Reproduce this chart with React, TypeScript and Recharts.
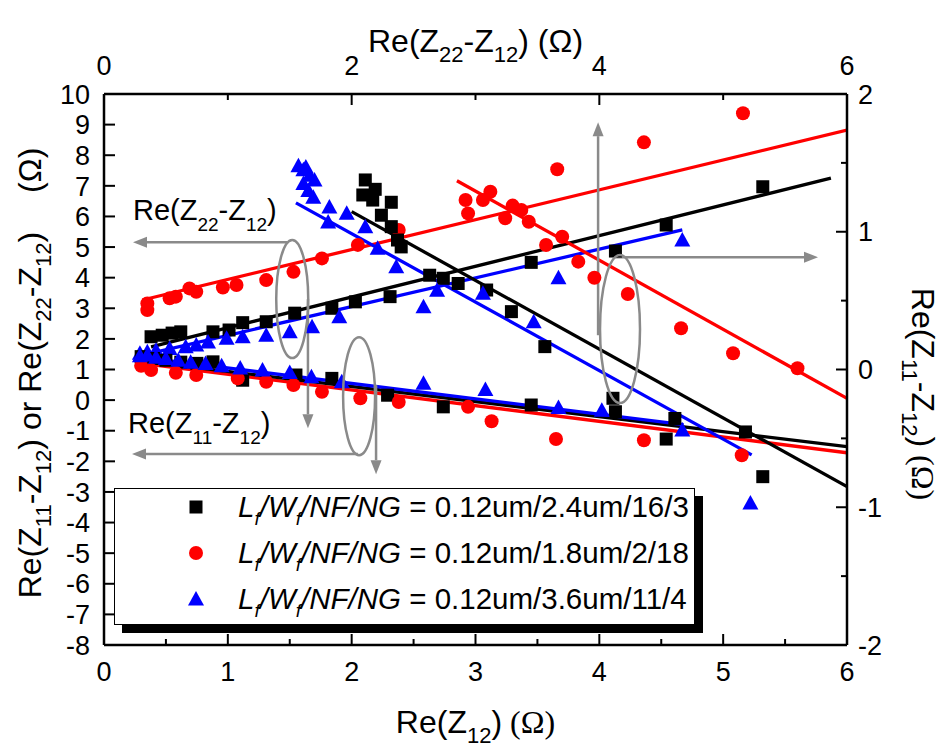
import React from "react";
import {
  ComposedChart,
  XAxis,
  YAxis,
  Scatter,
  Line,
  ReferenceLine,
  ReferenceDot,
  Legend,
} from "recharts";

const SANS = "'Liberation Sans', Arial, sans-serif";
const SERIF = "'Liberation Serif', 'Times New Roman', serif";
const GRAY = "#8a8a8a";

const W = 943;
const H = 752;
const PLOT_L = 104;
const PLOT_R = 847;
const PLOT_T = 94;
const PLOT_B = 645;

// axis ticks
const bottomTicks = [0, 0.5, 1, 1.5, 2, 2.5, 3, 3.5, 4, 4.5, 5, 5.5, 6];
const topTicks = [0, 1, 2, 3, 4, 5, 6];
const leftTicks = [-8, -7, -6, -5, -4, -3, -2, -1, 0, 1, 2, 3, 4, 5, 6, 7, 8, 9, 10];
const rightTicks = [-2, -1.5, -1, -0.5, 0, 0.5, 1, 1.5, 2];

const deviceLabels = ["0.12um/2.4um/16/3", "0.12um/1.8um/2/18", "0.12um/3.6um/11/4"];
const deviceColors = ["#000000", "#ff0000", "#0000ff"];
const deviceMarkers = ["square", "circle", "triangle"];

// [Re(Z12), Re(Z22-Z12)]  -> bottom / left
const blackZ22 = [
  [0.38, 2.07], [0.47, 2.12], [0.55, 2.19], [0.62, 2.23], [0.88, 2.23], [1.01, 2.29],
  [1.12, 2.53], [1.31, 2.56], [1.54, 2.84], [1.84, 3.0], [2.03, 3.21], [2.31, 3.38],
  [2.63, 4.08], [2.74, 3.98], [2.86, 3.81], [3.45, 4.5], [4.13, 4.87], [4.54, 5.72], [5.32, 6.97],
];
const redZ22 = [
  [0.35, 3.16], [0.35, 2.94], [0.53, 3.33], [0.58, 3.38], [0.69, 3.65], [0.745, 3.54],
  [0.96, 3.68], [1.07, 3.76], [1.31, 3.92], [1.53, 4.19], [1.76, 4.63], [2.05, 5.07],
  [2.38, 5.56], [2.94, 6.1], [3.66, 7.54], [4.36, 8.42], [5.16, 9.37],
];
const blueZ22 = [
  [0.29, 1.53], [0.35, 1.58], [0.42, 1.63], [0.53, 1.69], [0.66, 1.74], [0.745, 1.8],
  [0.84, 1.9], [0.99, 2.02], [1.12, 2.07], [1.31, 2.12], [1.5, 2.23], [1.68, 2.4],
  [1.9, 2.72], [2.58, 3.05], [2.69, 3.59], [3.67, 4.0], [4.67, 5.23],
];

// [Re(Z12), Re(Z11-Z12)]  -> bottom / left
const blackZ11 = [
  [0.3, 1.42], [0.4, 1.36], [0.5, 1.3], [0.62, 1.24], [0.75, 1.2], [0.88, 1.25],
  [1.12, 0.65], [1.55, 0.82], [1.84, 0.71], [2.29, 0.16], [2.74, -0.22], [3.45, -0.16],
  [4.13, -0.38], [4.61, -0.6], [5.18, -1.04],
];
const redZ11 = [
  [0.3, 1.12], [0.38, 0.98], [0.58, 0.89], [0.745, 0.82], [1.08, 0.71], [1.31, 0.6],
  [1.53, 0.49], [1.76, 0.27], [2.07, 0.06], [2.38, -0.06], [2.94, -0.22], [3.13, -0.69],
  [3.65, -1.27], [4.36, -1.31], [5.15, -1.8],
];
const blueZ11 = [
  [0.29, 1.45], [0.35, 1.47], [0.42, 1.4], [0.5, 1.36], [0.6, 1.3], [0.7, 1.24],
  [0.82, 1.2], [0.95, 1.12], [1.1, 1.05], [1.28, 0.98], [1.5, 0.9], [1.675, 0.76],
  [1.92, 0.6], [2.58, 0.55], [3.08, 0.35], [3.67, -0.24], [4.02, -0.33], [4.67, -0.98],
];

// [Re(Z22-Z12), Re(Z11-Z12)]  -> top / right
const blackZ11vs22 = [
  [2.11, 1.376], [2.09, 1.267], [2.19, 1.308], [2.17, 1.23], [2.32, 1.214], [2.24, 1.12],
  [2.32, 1.037], [2.37, 0.94], [2.4, 0.89], [3.09, 0.577], [3.29, 0.42], [3.56, 0.166],
  [4.11, -0.209], [4.54, -0.505], [5.32, -0.778],
];
const redZ11vs22 = [
  [2.92, 1.23], [3.06, 1.23], [3.12, 1.29], [3.24, 1.098], [3.3, 1.19], [3.37, 1.158],
  [3.43, 1.073], [3.57, 0.904], [3.7, 0.964], [3.83, 0.783], [3.96, 0.666], [4.23, 0.548],
  [4.66, 0.299], [5.08, 0.118], [5.6, 0.009],
];
const blueZ11vs22 = [
  [1.57, 1.48], [1.61, 1.45], [1.63, 1.47], [1.66, 1.41], [1.61, 1.35], [1.65, 1.3],
  [1.69, 1.25], [1.7, 1.376], [1.82, 1.18], [1.81, 1.07], [1.96, 1.134], [2.11, 1.037],
  [2.21, 0.88], [2.36, 0.746], [3.06, 0.553], [3.47, 0.347], [5.22, -0.97],
];

// linear fits (end points)
const blackZ22Fit = [[0.38, 1.74], [5.87, 7.25]];
const redZ22Fit = [[0.31, 3.27], [6.0, 8.82]];
const blueZ22Fit = [[0.26, 1.42], [4.67, 5.56]];
const blackZ11Fit = [[0.26, 1.3], [6.0, -1.52]];
const redZ11Fit = [[0.27, 1.22], [6.0, -1.72]];
const blueZ11Fit = [[0.26, 1.42], [4.68, -0.8]];
const blackZ11vs22Fit = [[2.0, 1.146], [6.0, -0.85]];
const redZ11vs22Fit = [[2.85, 1.37], [6.0, -0.21]];
const blueZ11vs22Fit = [[1.55, 1.21], [5.23, -0.62]];

// annotations, in Re(Z12) / left-axis units
const ellipses = [
  { x: 1.52, y: 3.3, rx: 16, ry: 59 },
  { x: 2.06, y: 0.13, rx: 16, ry: 59 },
  { x: 4.167, y: 2.32, rx: 20, ry: 74 },
];
const arrows = [
  [[1.48, 5.16], [0.234, 5.16]],
  [[1.647, 3.3], [1.647, -0.92]],
  [[2.05, -1.76], [0.226, -1.76]],
  [[2.197, 0.49], [2.197, -2.42]],
  [[3.99, 2.12], [3.99, 9.08]],
  [[4.127, 4.67], [5.766, 4.67]],
];
const notes = [
  { x: 0.234, y: 5.88, parts: ["Re(Z", "22", "-Z", "12", ")"] },
  { x: 0.194, y: -1.08, parts: ["Re(Z", "11", "-Z", "12", ")"] },
];

const pts = (a: number[][]) => a.map(([x, y]) => ({ x, y }));

const pointSeries = [
  { key: "bz22", data: blackZ22, dev: 0, sec: false },
  { key: "rz22", data: redZ22, dev: 1, sec: false },
  { key: "uz22", data: blueZ22, dev: 2, sec: false },
  { key: "bz11", data: blackZ11, dev: 0, sec: false },
  { key: "rz11", data: redZ11, dev: 1, sec: false },
  { key: "uz11", data: blueZ11, dev: 2, sec: false },
  { key: "bzx", data: blackZ11vs22, dev: 0, sec: true },
  { key: "rzx", data: redZ11vs22, dev: 1, sec: true },
  { key: "uzx", data: blueZ11vs22, dev: 2, sec: true },
];
const fitSeries = [
  { key: "rz22f", data: redZ22Fit, dev: 1, sec: false },
  { key: "bz22f", data: blackZ22Fit, dev: 0, sec: false },
  { key: "uz22f", data: blueZ22Fit, dev: 2, sec: false },
  { key: "rz11f", data: redZ11Fit, dev: 1, sec: false },
  { key: "bz11f", data: blackZ11Fit, dev: 0, sec: false },
  { key: "uz11f", data: blueZ11Fit, dev: 2, sec: false },
  { key: "rzxf", data: redZ11vs22Fit, dev: 1, sec: true },
  { key: "bzxf", data: blackZ11vs22Fit, dev: 0, sec: true },
  { key: "uzxf", data: blueZ11vs22Fit, dev: 2, sec: true },
];

function Marker({ kind, cx, cy, color }: { kind: string; cx: number; cy: number; color: string }) {
  if (kind === "square") return <rect x={cx - 6.5} y={cy - 6.5} width={13} height={13} fill={color} />;
  if (kind === "circle") return <circle cx={cx} cy={cy} r={7} fill={color} />;
  return <polygon points={`${cx},${cy - 8} ${cx - 8},${cy + 6.5} ${cx + 8},${cy + 6.5}`} fill={color} />;
}

function richSpans(parts: string[], subSize: number, shift: number) {
  return parts.map((t, i) => {
    const isSub = i % 2 === 1;
    const dy = i === 0 ? 0 : isSub ? shift : -shift;
    return (
      <tspan key={i} dy={dy} fontSize={isSub ? subSize : undefined}>
        {t}
      </tspan>
    );
  });
}

function makeTick(side: string, isMajor: (v: number) => boolean, hasLabel: (v: number) => boolean) {
  return (p: any) => {
    const { x, y, payload } = p;
    const v = payload.value;
    const len = isMajor(v) ? 11 : 6;
    const txt = hasLabel(v) ? String(v) : "";
    const common = { fontFamily: SANS, fontSize: 27, fill: "#000" };
    if (side === "left")
      return (
        <g>
          <line x1={x} y1={y} x2={x + len} y2={y} stroke="#000" strokeWidth={2} />
          <text x={x - 14} y={y} dy="0.36em" textAnchor="end" {...common}>{txt}</text>
        </g>
      );
    if (side === "right")
      return (
        <g>
          <line x1={x} y1={y} x2={x - len} y2={y} stroke="#000" strokeWidth={2} />
          <text x={x + 11} y={y} dy="0.36em" textAnchor="start" {...common}>{txt}</text>
        </g>
      );
    if (side === "bottom")
      return (
        <g>
          <line x1={x} y1={y} x2={x} y2={y - len} stroke="#000" strokeWidth={2} />
          <text x={x} y={y + 36} textAnchor="middle" {...common}>{txt}</text>
        </g>
      );
    return (
      <g>
        <line x1={x} y1={y} x2={x} y2={y + len} stroke="#000" strokeWidth={2} />
        <text x={x} y={y - 19} textAnchor="middle" {...common}>{txt}</text>
      </g>
    );
  };
}

const isInt = (v: number) => Math.abs(v - Math.round(v)) < 1e-6;
const isEven = (v: number) => isInt(v) && Math.round(v) % 2 === 0;

function Arrow(p: any) {
  const { x1, y1, x2, y2 } = p;
  const dx = x2 - x1;
  const dy = y2 - y1;
  const L = Math.hypot(dx, dy) || 1;
  const ux = dx / L;
  const uy = dy / L;
  const head = 14;
  const half = 5.5;
  const bx = x2 - ux * head;
  const by = y2 - uy * head;
  return (
    <g>
      <line x1={x1} y1={y1} x2={bx} y2={by} stroke={GRAY} strokeWidth={2.5} />
      <polygon
        points={`${x2},${y2} ${bx - uy * half},${by + ux * half} ${bx + uy * half},${by - ux * half}`}
        fill={GRAY}
      />
    </g>
  );
}

const subStyle = { fontSize: 19, verticalAlign: "-8px", lineHeight: 0 };

function LegendBox() {
  return (
    <div
      style={{
        position: "relative",
        width: 581,
        height: 137,
        boxSizing: "border-box",
        border: "1.5px solid #000",
        background: "#fff",
        boxShadow: "8px 8px 0 #000",
        fontFamily: SANS,
        fontSize: 29.5,
        color: "#000",
        lineHeight: 1,
      }}
    >
      {deviceLabels.map((label, i) => (
        <div
          key={i}
          style={{
            position: "absolute",
            left: 0,
            top: i * 46 - 5,
            height: 46,
            display: "flex",
            alignItems: "center",
            whiteSpace: "nowrap",
          }}
        >
          <svg width={20} height={20} style={{ marginLeft: 71 }}>
            <Marker kind={deviceMarkers[i]} cx={10} cy={10} color={deviceColors[i]} />
          </svg>
          <span style={{ marginLeft: 32 }}>
            <i>
              L<sub style={subStyle}>f</sub>/W<sub style={subStyle}>f</sub>/NF/NG
            </i>{" "}
            = {label}
          </span>
        </div>
      ))}
    </div>
  );
}

const titleFont = { fontFamily: SANS, fontSize: 32, fill: "#000" };

export default function App() {
  const cx = (PLOT_L + PLOT_R) / 2;
  return (
    <div style={{ position: "absolute", left: 0, top: 0, width: W, height: H, background: "#fff" }}>
      <ComposedChart width={W} height={H} margin={{ top: 0, right: 0, bottom: 0, left: 0 }}>
        <XAxis
          xAxisId="bottom"
          orientation="bottom"
          type="number"
          dataKey="x"
          domain={[0, 6]}
          ticks={bottomTicks}
          interval={0}
          allowDataOverflow
          height={H - PLOT_B}
          tickSize={0}
          tickMargin={0}
          tickLine={false}
          axisLine={{ stroke: "#000", strokeWidth: 2.5 }}
          tick={makeTick("bottom", isInt, isInt)}
          label={() => (
            <text x={cx} y={733} textAnchor="middle" {...titleFont}>
              {richSpans(["Re(Z", "12", ")"], 22, 10)}
              <tspan fontFamily={SERIF}> (Ω)</tspan>
            </text>
          )}
        />
        <XAxis
          xAxisId="top"
          orientation="top"
          type="number"
          dataKey="x"
          domain={[0, 6]}
          ticks={topTicks}
          interval={0}
          allowDataOverflow
          height={PLOT_T}
          tickSize={0}
          tickMargin={0}
          tickLine={false}
          axisLine={{ stroke: "#000", strokeWidth: 2.5 }}
          tick={makeTick("top", isEven, isEven)}
          label={() => (
            <text x={cx} y={52} textAnchor="middle" {...titleFont}>
              {richSpans(["Re(Z", "22", "-Z", "12", ")"], 22, 10)}
              <tspan> (Ω)</tspan>
            </text>
          )}
        />
        <YAxis
          yAxisId="left"
          orientation="left"
          type="number"
          dataKey="y"
          domain={[-8, 10]}
          ticks={leftTicks}
          interval={0}
          allowDataOverflow
          width={PLOT_L}
          tickSize={0}
          tickMargin={0}
          tickLine={false}
          axisLine={{ stroke: "#000", strokeWidth: 2.5 }}
          tick={makeTick("left", isInt, isInt)}
          label={() => (
            <text x={41} y={373} transform="rotate(-90 41 373)" textAnchor="middle" {...titleFont}>
              {richSpans(["Re(Z", "11", "-Z", "12", ") or Re(Z", "22", "-Z", "12", ")"], 22, 10)}
              <tspan dx={30}> (Ω)</tspan>
            </text>
          )}
        />
        <YAxis
          yAxisId="right"
          orientation="right"
          type="number"
          dataKey="y"
          domain={[-2, 2]}
          ticks={rightTicks}
          interval={0}
          allowDataOverflow
          width={W - PLOT_R}
          tickSize={0}
          tickMargin={0}
          tickLine={false}
          axisLine={{ stroke: "#000", strokeWidth: 2.5 }}
          tick={makeTick("right", isInt, isInt)}
          label={() => (
            <text x={912} y={394} transform="rotate(90 912 394)" textAnchor="middle" {...titleFont}>
              {richSpans(["Re(Z", "11", "-Z", "12", ")"], 22, 10)}
              <tspan fontFamily={SERIF}> (Ω)</tspan>
            </text>
          )}
        />

        {pointSeries.map((s) => (
          <Scatter
            key={s.key}
            data={pts(s.data)}
            xAxisId={s.sec ? "top" : "bottom"}
            yAxisId={s.sec ? "right" : "left"}
            isAnimationActive={false}
            shape={(p: any) => (
              <Marker kind={deviceMarkers[s.dev]} cx={p.cx} cy={p.cy} color={deviceColors[s.dev]} />
            )}
          />
        ))}
        {fitSeries.map((s) => (
          <Line
            key={s.key}
            data={pts(s.data)}
            dataKey="y"
            type="linear"
            xAxisId={s.sec ? "top" : "bottom"}
            yAxisId={s.sec ? "right" : "left"}
            stroke={deviceColors[s.dev]}
            strokeWidth={3.3}
            dot={false}
            activeDot={false}
            isAnimationActive={false}
          />
        ))}

        {ellipses.map((e, i) => (
          <ReferenceDot
            key={`e${i}`}
            xAxisId="bottom"
            yAxisId="left"
            x={e.x}
            y={e.y}
            r={1}
            shape={(p: any) => (
              <ellipse cx={p.cx} cy={p.cy} rx={e.rx} ry={e.ry} fill="none" stroke={GRAY} strokeWidth={2.5} />
            )}
          />
        ))}
        {arrows.map((a, i) => (
          <ReferenceLine
            key={`a${i}`}
            xAxisId="bottom"
            yAxisId="left"
            segment={[
              { x: a[0][0], y: a[0][1] },
              { x: a[1][0], y: a[1][1] },
            ]}
            shape={Arrow}
          />
        ))}
        {notes.map((n, i) => (
          <ReferenceDot
            key={`n${i}`}
            xAxisId="bottom"
            yAxisId="left"
            x={n.x}
            y={n.y}
            r={1}
            shape={(p: any) => (
              <text x={p.cx} y={p.cy} fontFamily={SANS} fontSize={29} fill="#000">
                {richSpans(n.parts, 19, 11)}
              </text>
            )}
          />
        ))}

        <Legend
          layout="horizontal"
          verticalAlign="middle"
          align="center"
          content={() => <LegendBox />}
          wrapperStyle={{ left: 114, top: 488, width: 581, height: 137 }}
        />
      </ComposedChart>
    </div>
  );
}
